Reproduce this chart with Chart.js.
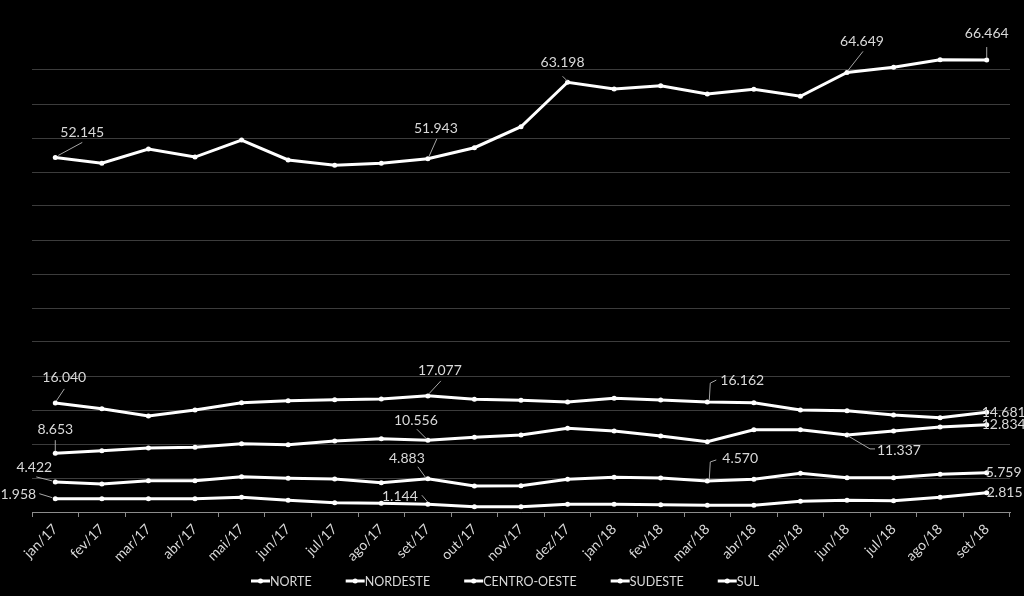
<!DOCTYPE html>
<html><head><meta charset="utf-8">
<script src="https://cdn.jsdelivr.net/npm/chart.js@4/dist/chart.umd.min.js"></script>
<style>html,body{margin:0;padding:0;background:#000;overflow:hidden}</style>
</head><body>
<canvas id="c" width="1024" height="596" style="display:block;width:1024px;height:596px"></canvas>
<script>
const categories = ['jan/17','fev/17','mar/17','abr/17','mai/17','jun/17','jul/17','ago/17','set/17','out/17','nov/17','dez/17','jan/18','fev/18','mar/18','abr/18','mai/18','jun/18','jul/18','ago/18','set/18'];
const seriesNames = ['NORTE','NORDESTE','CENTRO-OESTE','SUDESTE','SUL'];
const norte       = [1958,1960,1960,1960,2160,1720,1370,1280,1144,780,790,1130,1130,1080,980,980,1570,1720,1670,2160,2815];
const nordeste    = [8653,9015,9410,9510,10050,9900,10440,10780,10556,10985,11320,12300,11910,11180,10340,12100,12100,11337,11910,12500,12834];
const centroOeste = [4422,4120,4600,4600,5190,4950,4850,4310,4883,3820,3870,4800,5100,5000,4570,4800,5690,5050,5050,5540,5759];
const sudeste     = [52145,51280,53380,52200,54700,51770,50990,51280,51943,53570,56660,63198,62210,62690,61470,62160,61130,64649,65400,66500,66464];
const sul         = [16040,15190,14120,15000,16070,16370,16520,16620,17077,16570,16420,16180,16720,16470,16162,16070,15000,14900,14270,13870,14681];
const yMax = 70000, yStep = 5000;

// which points carry a value label (series index, point index)
const labelledPoints = [
  [3,0],[3,8],[3,11],[3,17],[3,20],
  [4,0],[4,8],[4,14],[4,20],
  [1,0],[1,8],[1,17],[1,20],
  [2,0],[2,8],[2,14],[2,20],
  [0,0],[0,8],[0,20]
];
// label placement relative to the point (pixels): text offset, alignment, leader path
const labelStyle = [
  {dx:27,dy:-25,al:'center',lead:[[3,-2],[27,-15]]},
  {dx:8,dy:-30,al:'center',lead:[[1,-2],[9,-20]]},
  {dx:-5,dy:-20,al:'center',lead:[[0,-1],[-5,-6]]},
  {dx:15,dy:-31,al:'center',lead:[[1,-2],[16,-21]]},
  {dx:0,dy:-27,al:'center',lead:[[0,-2],[0,-13]]},
  {dx:9,dy:-25,al:'center',lead:[[1,-2],[9,-14]]},
  {dx:12,dy:-25,al:'center',lead:[[1,-2],[13,-15]]},
  {dx:13,dy:-22,al:'left',lead:[[2,-2],[3,-19],[9,-22]]},
  {dx:-5,dy:0,al:'left',lead:null},
  {dx:0,dy:-24,al:'center',lead:[[0,-2],[0,-13]]},
  {dx:-12,dy:-20,al:'center',lead:[[-1,-1],[-11,-11]]},
  {dx:30,dy:16,al:'left',lead:[[1,1],[23,14],[28,14]]},
  {dx:-5,dy:0,al:'left',lead:null},
  {dx:-21,dy:-14,al:'center',lead:[[-3,-1],[-19,-5]]},
  {dx:-21,dy:-20,al:'center',lead:[[-2,-1],[-10,-12]]},
  {dx:15,dy:-22,al:'left',lead:[[2,-2],[3,-19],[9,-21]]},
  {dx:-1,dy:0,al:'left',lead:null},
  {dx:-37,dy:-4,al:'center',lead:[[-3,-1],[-16,-5]]},
  {dx:-28,dy:-8,al:'center',lead:[[0,-2],[-6,-9]]},
  {dx:0,dy:0,al:'left',lead:null}
];

const fmt = v => { const s = String(Math.round(v)); return s.length > 3 ? s.slice(0, -3) + '.' + s.slice(-3) : s; };
const FONT = 'Lato, "Open Sans", sans-serif';
const TXT = '#d9d9d9';

const bgPlugin = {
  id: 'bg',
  beforeDraw(chart) {
    const c = chart.ctx; c.save(); c.fillStyle = '#000'; c.fillRect(0, 0, chart.width, chart.height); c.restore();
  }
};

const labelPlugin = {
  id: 'valueLabels',
  afterDatasetsDraw(chart) {
    const c = chart.ctx;
    c.save();
    c.font = '14px ' + FONT;
    c.textBaseline = 'middle';
    labelledPoints.forEach(([s, i], k) => {
      const st = labelStyle[k];
      const pt = chart.getDatasetMeta(s).data[i];
      const x = pt.x, y = pt.y;
      if (st.lead) {
        c.strokeStyle = '#a6a6a6'; c.lineWidth = 1;
        c.beginPath();
        st.lead.forEach(([lx, ly], j) => j ? c.lineTo(x + lx, y + ly) : c.moveTo(x + lx, y + ly));
        c.stroke();
      }
      c.fillStyle = TXT;
      c.textAlign = st.al;
      c.fillText(fmt(chart.data.datasets[s].data[i]), x + st.dx, y + st.dy);
    });
    c.restore();
  }
};

const legendPlugin = {
  id: 'customLegend',
  afterDraw(chart) {
    const c = chart.ctx;
    c.save();
    c.font = '12.5px ' + FONT;
    c.textBaseline = 'middle';
    c.textAlign = 'left';
    const y = 581, sym = 19, gap = 34;
    let x = 251;
    chart.data.datasets.forEach(ds => {
      c.strokeStyle = '#fff'; c.lineWidth = 3;
      c.beginPath(); c.moveTo(x, y); c.lineTo(x + sym, y); c.stroke();
      c.fillStyle = '#fff';
      c.beginPath(); c.arc(x + sym / 2, y, 2.5, 0, Math.PI * 2); c.fill();
      c.fillStyle = TXT;
      c.fillText(ds.label, x + sym, y + 1);
      x += sym + c.measureText(ds.label).width + gap;
    });
    c.restore();
  }
};

const allSeries = [norte, nordeste, centroOeste, sudeste, sul];

new Chart(document.getElementById('c'), {
  type: 'line',
  data: {
    labels: categories,
    datasets: allSeries.map((d, k) => ({
      label: seriesNames[k],
      data: d,
      borderColor: '#ffffff',
      backgroundColor: '#ffffff',
      borderWidth: 3,
      pointRadius: 2.5,
      pointBorderWidth: 0,
      pointBackgroundColor: '#ffffff',
      tension: 0,
      fill: false
    }))
  },
  options: {
    responsive: false,
    devicePixelRatio: 1,
    animation: false,
    layout: { padding: { left: 32, right: 14, top: 36, bottom: 0 } },
    plugins: { legend: { display: false }, tooltip: { enabled: false } },
    scales: {
      x: {
        offset: true,
        grid: { display: true, drawOnChartArea: false, drawTicks: true, tickLength: 5, color: '#8c8c8c', offset: true },
        border: { display: true, color: '#8c8c8c', width: 1 },
        ticks: { color: TXT, font: { family: FONT, size: 14 }, minRotation: 45, maxRotation: 45, autoSkip: false, padding: 4 },
        afterFit(s) { s.height = 84; }
      },
      y: {
        min: 0, max: yMax,
        ticks: { display: false, stepSize: yStep },
        border: { display: false },
        grid: { drawTicks: false, tickLength: 0, color: ctx => (ctx.tick && ctx.tick.value >= yMax) ? 'rgba(0,0,0,0)' : '#3c3c3c', lineWidth: 1 },
        afterFit(s) { s.width = 0; }
      }
    }
  },
  plugins: [bgPlugin, labelPlugin, legendPlugin]
});
</script>
</body></html>
